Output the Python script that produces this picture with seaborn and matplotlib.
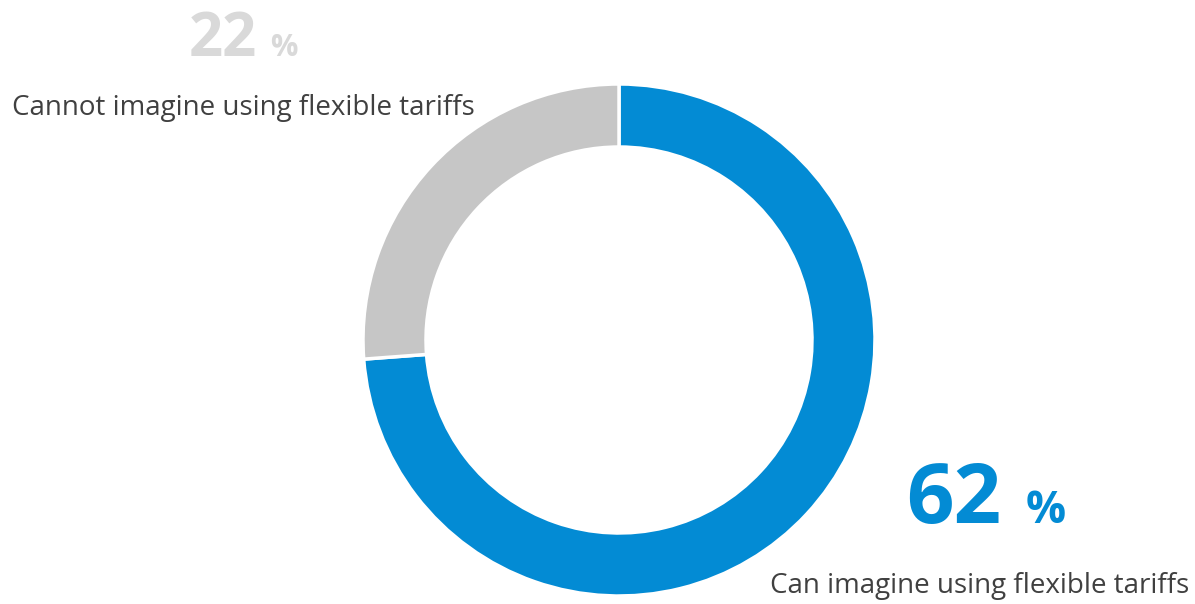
import matplotlib
matplotlib.use("Agg")
import matplotlib.pyplot as plt
import seaborn as sns

# Data
labels = ["Can imagine using flexible tariffs", "Cannot imagine using flexible tariffs"]
values = [62, 22]
colors = ["#038bd4", "#c6c6c6"]

sns.set_theme(style="white")
plt.rcParams['font.family'] = ['Open Sans', 'DejaVu Sans']

fig = plt.figure(figsize=(11.95, 6.04), dpi=100)
W, H = 1195, 604
ax = fig.add_axes([363 / W, (H - 596) / H, 512 / W, 512 / H])

ax.pie(values, colors=colors, startangle=90, counterclock=False, radius=1,
       wedgeprops=dict(width=63 / 256, edgecolor="white", linewidth=2.5))
ax.set_xlim(-1.0, 1.0)
ax.set_ylim(-1.0, 1.0)
ax.set_aspect("equal")
ax.axis("off")

# labels
def ftxt(x, y, s, **kw):
    fig.text(x / W, 1 - y / H, s, va="baseline", ha="left", **kw)

ftxt(189, 56, str(values[1]), fontsize=43, fontweight="bold", color="#d9d9d9")
ftxt(270, 56, "%", fontsize=22, fontweight="bold", color="#d9d9d9")
ftxt(12, 115, labels[1], fontsize=20, color="#404040")

ftxt(906, 523, str(values[0]), fontsize=60, fontweight="bold", color=colors[0])
ftxt(1026, 523, "%", fontsize=32, fontweight="bold", color=colors[0])
ftxt(770, 593, labels[0], fontsize=20, color="#404040")

fig.savefig("out.png", dpi=100)
